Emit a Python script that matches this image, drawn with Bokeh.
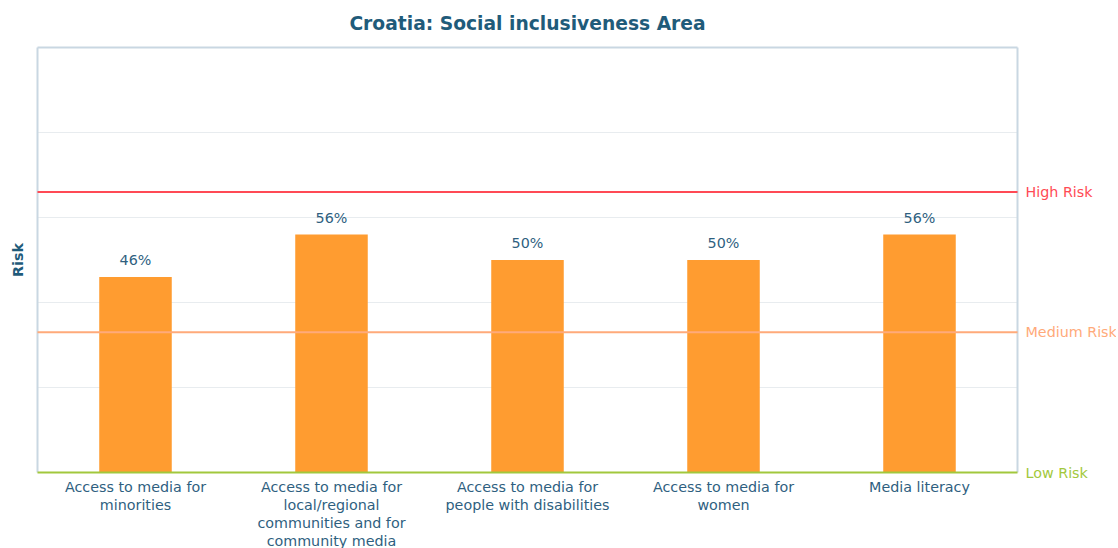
import math
from bokeh.plotting import figure
from bokeh.models import ColumnDataSource, LabelSet
from bokeh.core.properties import value
from bokeh.embed import file_html
from bokeh.resources import INLINE

title = "Croatia: Social inclusiveness Area"
categories = ["Access to media for minorities",
              "Access to media for local/regional communities and for community media",
              "Access to media for people with disabilities",
              "Access to media for women",
              "Media literacy"]
tick_labels = ["Access to media for\nminorities",
               "Access to media for\nlocal/regional\ncommunities and for\ncommunity media",
               "Access to media for\npeople with disabilities",
               "Access to media for\nwomen",
               "Media literacy"]
values = [46, 56, 50, 50, 56]
grid_values = [20, 40, 60, 80]
thresholds = [66, 33, 0]
threshold_names = ["High Risk", "Medium Risk", "Low Risk"]
threshold_colors = ["#ff4a55", "#ffaa7a", "#a2c83c"]

FONT = "DejaVu Sans"
TXT = "#2f5f7f"
TITLE_C = "#1f5b7a"
BORDER = "#c9d7e2"
FS = "14.3px"

# canvas and plot-box geometry (pixels)
W, H = 1116, 548
L, R, T, B = 37, 1017, 47, 472
n = len(categories)
xpu = (R - L) / n          # pixels per category
ypu = (B - T) / 100.0      # pixels per percent


def X(px):
    return (px - L) / xpu


def Y(py):
    return (B - py) / ypu


xs = [i + 0.5 for i in range(n)]
src = ColumnDataSource(dict(x=xs, y=values, lab=[f"{v}%" for v in values]))

p = figure(width=W, height=H, x_range=(X(0), X(W)), y_range=(Y(H), Y(0)),
           x_axis_type=None, y_axis_type=None,
           output_backend="svg", toolbar_location=None,
           min_border_left=0, min_border_right=0, min_border_top=0, min_border_bottom=0)
p.outline_line_color = None
p.grid.visible = False

# grid lines inside the plot box
p.segment(x0=[0] * len(grid_values), x1=[n] * len(grid_values), y0=grid_values, y1=grid_values,
          line_color="#e8ecef", line_width=1)

# bars
p.vbar(x="x", top="y", width=0.37, bottom=0, source=src, color="#ff9c30", line_color=None)

p.add_layout(LabelSet(x="x", y="y", text="lab", source=src, text_align="center",
                      text_baseline="middle", y_offset=17, text_font_size=FS,
                      text_color=TXT, text_font=value(FONT)))

# box borders (left, right, top)
p.segment(x0=[0, n, 0], x1=[0, n, n], y0=[0, 0, 100], y1=[100, 100, 100],
          line_color=BORDER, line_width=2)

# threshold lines and their labels
tsrc = ColumnDataSource(dict(y=thresholds, name=threshold_names, color=threshold_colors,
                             x0=[0] * len(thresholds), x1=[n] * len(thresholds)))
p.segment(x0="x0", x1="x1", y0="y", y1="y", line_color="color", line_width=2, source=tsrc)
p.text(x="x1", y="y", text="name", text_color="color", source=tsrc, x_offset=8,
       text_baseline="middle", text_font=value(FONT), text_font_size=FS)

# category labels
p.text(x=xs, y=[Y(478)] * n, text=tick_labels, text_align="center", text_baseline="top",
       text_font=value(FONT), text_font_size=FS, text_color=TXT, text_line_height=1.13)

# title
p.text(x=[n / 2], y=[Y(23)], text=[title], text_align="center", text_baseline="middle",
       text_font=value(FONT), text_font_size="18.7px", text_font_style="bold",
       text_color=TITLE_C)

# y axis label
p.text(x=[X(17)], y=[50], text=["Risk"], angle=math.pi / 2, text_align="center",
       text_baseline="middle", text_font=value(FONT), text_font_size=FS,
       text_font_style="bold", text_color=TITLE_C)

open("out.html", "w").write(file_html(p, INLINE))
